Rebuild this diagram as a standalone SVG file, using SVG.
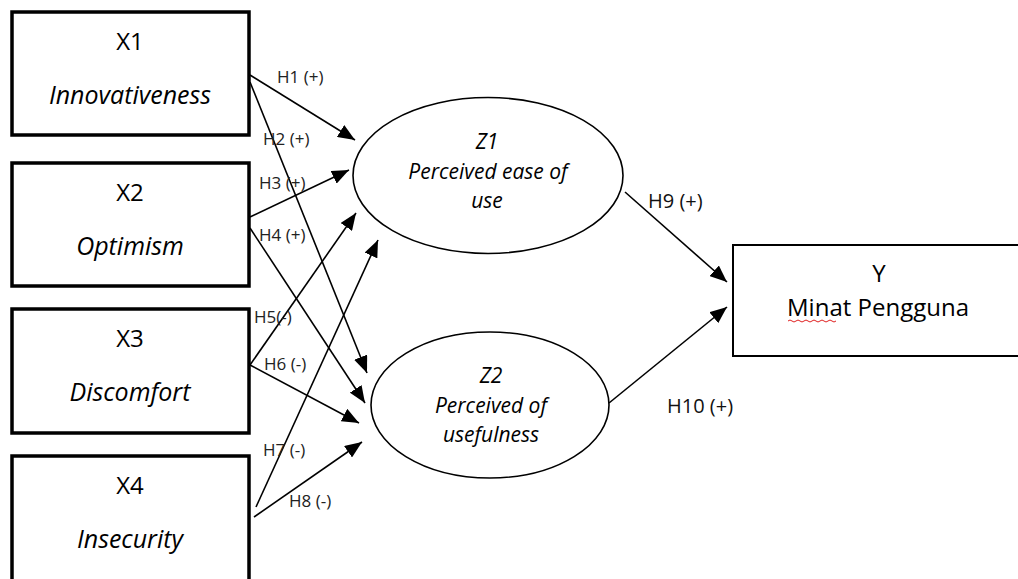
<svg xmlns="http://www.w3.org/2000/svg" width="1018" height="579" viewBox="0 0 1018 579">
<defs>
<style>
.box{fill:#fff;stroke:#000;stroke-width:3.5}
.ybox{fill:#fff;stroke:#000;stroke-width:2}
.ell{fill:#fff;stroke:#000;stroke-width:1.6}
.t{font-family:"Open Sans","Noto Sans",sans-serif;fill:#000;text-anchor:middle}
.big{font-size:24px}
.bigit{font-size:25px;font-style:italic}
.it{font-style:italic}
.mid{font-size:21px}
.lbl{font-family:"Open Sans","Noto Sans",sans-serif;font-size:17px;fill:#222}
.lbl2{font-family:"Open Sans","Noto Sans",sans-serif;font-size:20px;fill:#111}
.c{stroke:#000;stroke-width:1.6;fill:none;marker-end:url(#ah)}
</style>
<marker id="ah" markerUnits="userSpaceOnUse" markerWidth="18" markerHeight="14" viewBox="0 0 18 14" refX="17" refY="7" orient="auto">
<path d="M0,0 L17,7 L0,14 z" fill="#000"/>
</marker>
</defs>
<rect width="1018" height="579" fill="#fff"/>
<g id="connectors">
<line class="c" x1="250" y1="75" x2="355" y2="140"/>
<line class="c" x1="250" y1="82" x2="367" y2="373"/>
<line class="c" x1="250" y1="217" x2="349" y2="170"/>
<line class="c" x1="250" y1="228" x2="365" y2="403"/>
<line class="c" x1="250" y1="365" x2="356" y2="213"/>
<line class="c" x1="250" y1="365" x2="359" y2="423"/>
<line class="c" x1="256" y1="507" x2="378" y2="240"/>
<line class="c" x1="254" y1="517" x2="362" y2="442"/>
<line class="c" x1="625" y1="192" x2="727" y2="282"/>
<line class="c" x1="609" y1="403" x2="727" y2="307"/>
<text class="lbl" x="277" y="83">H1 (+)</text>
<text class="lbl" x="263" y="145">H2 (+)</text>
<text class="lbl" x="259" y="189">H3 (+)</text>
<text class="lbl" x="259" y="241">H4 (+)</text>
<text class="lbl" x="254" y="323">H5(-)</text>
<text class="lbl" x="264" y="370">H6 (-)</text>
<text class="lbl" x="263" y="456">H7 (-)</text>
<text class="lbl" x="289" y="507">H8 (-)</text>
<text class="lbl2" x="648" y="208">H9 (+)</text>
<text class="lbl2" x="667" y="413">H10 (+)</text>
</g>
<g id="X1">
<rect class="box" x="12" y="12" width="237" height="123"/>
<text class="t big" x="130" y="50">X1</text>
<text class="t bigit" x="130" y="104">Innovativeness</text>
</g>
<g id="X2">
<rect class="box" x="12" y="163" width="237" height="123"/>
<text class="t big" x="130" y="201">X2</text>
<text class="t bigit" x="130" y="255">Optimism</text>
</g>
<g id="X3">
<rect class="box" x="12" y="309" width="237" height="124"/>
<text class="t big" x="130" y="347">X3</text>
<text class="t bigit" x="130" y="401">Discomfort</text>
</g>
<g id="X4">
<rect class="box" x="12" y="456" width="237" height="130"/>
<text class="t big" x="130" y="494">X4</text>
<text class="t bigit" x="130" y="548">Insecurity</text>
</g>
<g id="Z1">
<ellipse class="ell" cx="488" cy="175.5" rx="135" ry="78"/>
<text class="t mid it" x="487" y="149">Z1</text>
<text class="t mid it" x="488" y="179">Perceived ease of</text>
<text class="t mid it" x="487" y="208">use</text>
</g>
<g id="Z2">
<ellipse class="ell" cx="490" cy="405" rx="119" ry="73"/>
<text class="t mid it" x="491" y="383">Z2</text>
<text class="t mid it" x="491" y="413">Perceived of</text>
<text class="t mid it" x="491" y="442">usefulness</text>
</g>
<g id="Y">
<rect class="ybox" x="733" y="245" width="290" height="111"/>
<text class="t big" x="879" y="282">Y</text>
<text class="t big" x="878" y="316">Minat Pengguna</text>
<path d="M788,321 q2,-2 4,0 t4,0 t4,0 t4,0 t4,0 t4,0 t4,0 t4,0 t4,0 t4,0 t4,0 t4,0" fill="none" stroke="#e02020" stroke-width="1"/>
</g>
</svg>
